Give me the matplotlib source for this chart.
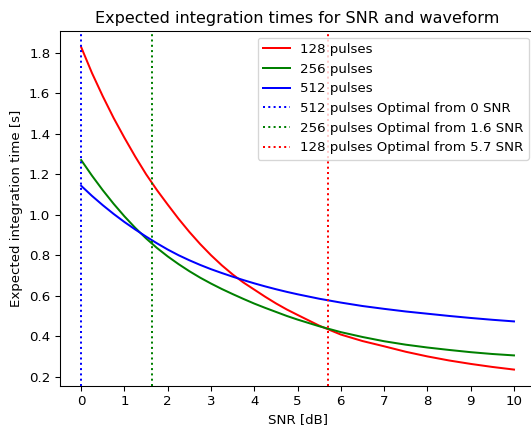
import numpy as np
import matplotlib
matplotlib.use("Agg")
import matplotlib.pyplot as plt

# ----------------------------
# Data
# ----------------------------

snr = [0, 0.25, 0.5, 0.75, 1, 1.25, 1.5, 1.75, 2, 2.25, 2.5, 2.75, 3,
       3.25, 3.5, 3.75, 4, 4.25, 4.5, 4.75, 5,
       5.5, 6, 6.5, 7, 7.5, 8, 8.5, 9, 9.5, 10]

t128 = [1.828, 1.70, 1.585, 1.478, 1.38, 1.287, 1.20, 1.122, 1.05, 0.98, 0.915, 0.855, 0.80,
        0.75, 0.705, 0.665, 0.63, 0.595, 0.562, 0.532, 0.505,
        0.452, 0.408, 0.376, 0.35, 0.323, 0.30, 0.28, 0.263, 0.248, 0.235]
t256 = [1.27, 1.193, 1.121, 1.054, 0.992, 0.935, 0.883, 0.836, 0.794, 0.756, 0.721, 0.689, 0.66,
        0.633, 0.608, 0.584, 0.561, 0.540, 0.520, 0.500, 0.482,
        0.449, 0.420, 0.396, 0.375, 0.358, 0.344, 0.332, 0.321, 0.312, 0.305]
t512 = [1.143, 1.093, 1.047, 1.004, 0.964, 0.927, 0.892, 0.859, 0.828, 0.800, 0.775, 0.752, 0.731,
        0.712, 0.694, 0.677, 0.661, 0.646, 0.632, 0.619, 0.607,
        0.585, 0.566, 0.549, 0.535, 0.522, 0.511, 0.50, 0.49, 0.481, 0.473]

# switch-over points (SNR where each waveform becomes optimal)
opt512 = 0.0
opt256 = 1.64
opt128 = 5.71

# ----------------------------
# Plot
# ----------------------------

DPI = 96
fig = plt.figure(figsize=(531 / DPI, 426 / DPI), dpi=DPI)
ax = fig.add_axes([0.1121, 0.0946, 0.8966, 0.8326])

ax.plot(snr, t128, color='r', label='128 pulses')
ax.plot(snr, t256, color='g', label='256 pulses')
ax.plot(snr, t512, color='b', label='512 pulses')

ax.axvline(opt512, color='b', linestyle=':', label='512 pulses Optimal from 0 SNR')
ax.axvline(opt256, color='g', linestyle=':', label='256 pulses Optimal from 1.6 SNR')
ax.axvline(opt128, color='r', linestyle=':', label='128 pulses Optimal from 5.7 SNR')

ax.set_xticks(np.arange(0, 11, 1))
ax.set_title('Expected integration times for SNR and waveform')
ax.set_xlabel('SNR [dB]')
ax.set_ylabel('Expected integration time [s]')
ax.legend(loc='upper right')

fig.savefig("out.png", dpi=DPI)
